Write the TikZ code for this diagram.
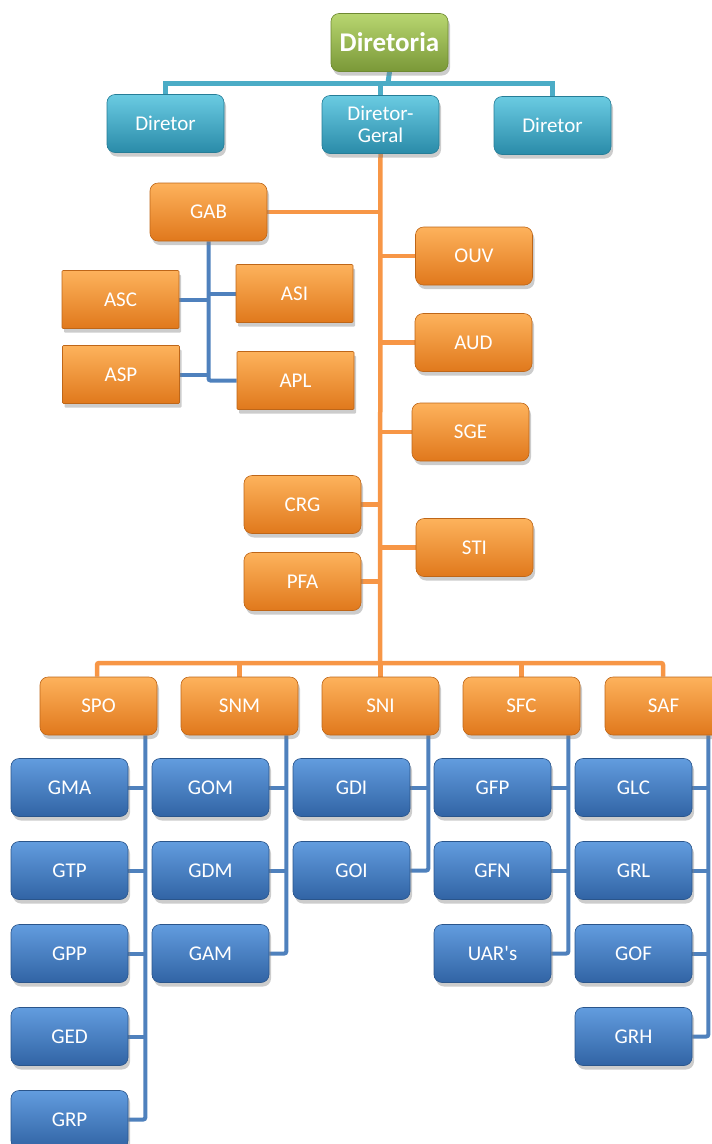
\documentclass[tikz,border=0pt]{standalone}
\usepackage{fontspec}
\newfontfamily\carl{Carlito}
\usetikzlibrary{shadows,backgrounds}
\definecolor{grnB}{HTML}{9BBB59}\definecolor{grnT}{HTML}{B8D670}\definecolor{grnD}{HTML}{7A9838}
\definecolor{tealB}{HTML}{3FAFCC}\definecolor{tealT}{HTML}{6ACBE2}\definecolor{tealD}{HTML}{2A8BA8}
\definecolor{orB}{HTML}{F8912F}\definecolor{orT}{HTML}{FDB25C}\definecolor{orD}{HTML}{E0781C}
\definecolor{blB}{HTML}{4580C6}\definecolor{blT}{HTML}{629CDE}\definecolor{blD}{HTML}{3164A4}
\definecolor{tealL}{HTML}{4BACC6}\definecolor{orL}{HTML}{F79646}\definecolor{blL}{HTML}{4F81BD}
\tikzset{
  boxbase/.style={minimum width=117pt,minimum height=58pt,inner sep=2pt,rounded corners=8pt,
    text=white,font=\carl\fontsize{21}{22}\selectfont,align=center,
    drop shadow={opacity=0.4,shadow xshift=2pt,shadow yshift=-4pt}},
  greenbox/.style={boxbase,top color=grnT,middle color=grnB,bottom color=grnD,draw=grnD!90!black,line width=0.6pt},
  tealbox/.style={boxbase,top color=tealT,middle color=tealB,bottom color=tealD,draw=tealD!90!black,line width=0.6pt},
  orbox/.style={boxbase,top color=orT,middle color=orB,bottom color=orD,draw=orD!85!black,line width=0.6pt},
  orsq/.style={orbox,rounded corners=1pt},
  blbox/.style={boxbase,top color=blT,middle color=blB,bottom color=blD,draw=blD!85!black,line width=0.6pt},
  tline/.style={draw=tealL,line width=5pt},
  oline/.style={draw=orL,line width=4.5pt},
  bline/.style={draw=blL,line width=4pt},
}
\begin{document}
\begin{tikzpicture}[x=1pt,y=-1pt]
\useasboundingbox (0,0) rectangle (712,1144);
\begin{scope}
\clip (0,0) rectangle (712,1144);
% top
\node[greenbox,font=\carl\bfseries\fontsize{27}{29}\selectfont] (diretoria) at (389.5,42.5) {Diretoria};
\node[tealbox] (dirL) at (165.5,123.5) {Diretor};
\node[tealbox] (dg) at (380.5,124.5) {Diretor-\\Geral};
\node[tealbox] (dirR) at (552.5,125.5) {Diretor};
% GAB group
\node[orbox] (gab) at (208.5,212) {GAB};
\node[orsq] (asc) at (120.5,299.5) {ASC};
\node[orsq] (asi) at (294.5,293.5) {ASI};
\node[orsq] (asp) at (121,374.5) {ASP};
\node[orsq] (apl) at (295.5,380.5) {APL};
% right column
\node[orbox] (ouv) at (474,256) {OUV};
\node[orbox] (aud) at (473.5,342.5) {AUD};
\node[orbox] (sge) at (470.5,432) {SGE};
\node[orbox] (crg) at (302.5,504.5) {CRG};
\node[orbox] (sti) at (474.5,547.5) {STI};
\node[orbox] (pfa) at (302.5,581.5) {PFA};
% second tier
\node[orbox] (spo) at (98.5,706) {SPO};
\node[orbox] (snm) at (239.5,706) {SNM};
\node[orbox] (sni) at (380.5,706) {SNI};
\node[orbox] (sfc) at (521.5,706) {SFC};
\node[orbox] (saf) at (663.5,706) {SAF};
% blue columns
\node[blbox] (gma) at (69.5,787.5) {GMA};
\node[blbox] (gtp) at (69.5,870.5) {GTP};
\node[blbox] (gpp) at (69.5,953.5) {GPP};
\node[blbox] (ged) at (69.5,1036.5) {GED};
\node[blbox] (grp) at (69.5,1119.5) {GRP};
\node[blbox] (gom) at (210.5,787.5) {GOM};
\node[blbox] (gdm) at (210.5,870.5) {GDM};
\node[blbox] (gam) at (210.5,953.5) {GAM};
\node[blbox] (gdi) at (351.5,787.5) {GDI};
\node[blbox] (goi) at (351.5,870.5) {GOI};
\node[blbox] (gfp) at (492.5,787.5) {GFP};
\node[blbox] (gfn) at (492.5,870.5) {GFN};
\node[blbox] (uar) at (492.5,953.5) {UAR's};
\node[blbox] (glc) at (633.5,787.5) {GLC};
\node[blbox] (grl) at (633.5,870.5) {GRL};
\node[blbox] (gof) at (633.5,953.5) {GOF};
\node[blbox] (grh) at (633.5,1036.5) {GRH};
% connectors
\begin{scope}[on background layer]
\coordinate (tb) at (388,83);
\draw[tline] (dirL.north) |- (tb) -| (dirR.north);
\draw[tline] (diretoria.south) -- (tb);
\draw[tline] (dg.north) -- (dg.north |- tb);
\coordinate (bus) at (380,663);
\draw[oline] (dg.south) -- (bus);
\draw[oline] (gab.east) -- (gab.east -| bus);
\foreach \n in {ouv,aud,sge,sti} \draw[oline] (\n.west) -- (\n.west -| bus);
\foreach \n in {crg,pfa} \draw[oline] (\n.east) -- (\n.east -| bus);
\draw[oline,rounded corners=2pt] ([xshift=-1.5pt]spo.north) |- (bus) -| ([xshift=-0.5pt]saf.north);
\foreach \n in {snm,sni,sfc} \draw[oline] (\n.north) -- (\n.north |- bus);
% GAB blue
\draw[bline,rounded corners=2pt] (gab.south) |- (apl.west);
\draw[bline] (asc.east) -- (asc.east -| gab.south);
\draw[bline] (asi.west) -- (asi.west -| gab.south);
\draw[bline] (asp.east) -- (asp.east -| gab.south);
% blue columns
\coordinate (v1) at ([xshift=-12pt]spo.south east);
\coordinate (v2) at ([xshift=-12pt]snm.south east);
\coordinate (v3) at ([xshift=-11pt]sni.south east);
\coordinate (v4) at ([xshift=-12pt]sfc.south east);
\coordinate (v5) at ([xshift=-14pt]saf.south east);
\draw[bline,rounded corners=2pt] (v1) |- (grp.east);
\foreach \n in {gma,gtp,gpp,ged} \draw[bline] (\n.east) -- (\n.east -| v1);
\draw[bline,rounded corners=2pt] (v2) |- (gam.east);
\foreach \n in {gom,gdm} \draw[bline] (\n.east) -- (\n.east -| v2);
\draw[bline,rounded corners=2pt] (v3) |- (goi.east);
\draw[bline] (gdi.east) -- (gdi.east -| v3);
\draw[bline,rounded corners=2pt] (v4) |- (uar.east);
\foreach \n in {gfp,gfn} \draw[bline] (\n.east) -- (\n.east -| v4);
\draw[bline,rounded corners=2pt] (v5) |- (grh.east);
\foreach \n in {glc,grl,gof} \draw[bline] (\n.east) -- (\n.east -| v5);
\end{scope}
\end{scope}
\end{tikzpicture}
\end{document}
